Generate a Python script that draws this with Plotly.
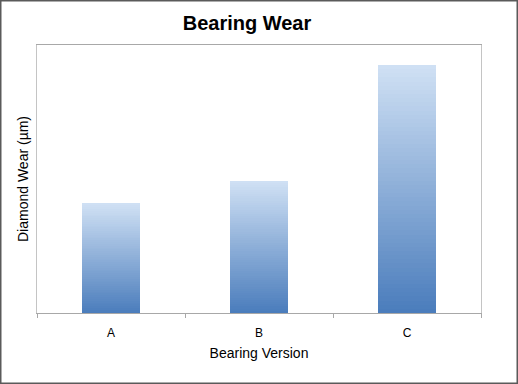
import plotly.graph_objects as go

categories = ["A", "B", "C"]
wear_values = [4.1, 4.93, 9.25]

title_text = "Bearing Wear"
x_title = "Bearing Version"
y_title = "Diamond Wear (µm)"

bottom_rgb = (75, 125, 188)
top_rgb = (207, 224, 244)
n_steps = 60

fig = go.Figure()
for k in range(n_steps):
    t = k / (n_steps - 1)
    c = tuple(round(b + (tp - b) * t) for b, tp in zip(bottom_rgb, top_rgb))
    fig.add_trace(go.Bar(
        x=categories,
        y=[v / n_steps for v in wear_values],
        marker=dict(color="rgb(%d,%d,%d)" % c, line=dict(width=0)),
        showlegend=False,
        hoverinfo="skip",
    ))

W, H = 518, 384
ml, mr, mt, mb = 37, 37, 45, 71
pw, ph = W - ml - mr, H - mt - mb

fig.update_layout(
    width=W, height=H,
    margin=dict(l=ml, r=mr, t=mt, b=mb),
    barmode="stack",
    bargap=0.61,
    paper_bgcolor="white",
    plot_bgcolor="white",
    font=dict(family="Liberation Sans, Arial, sans-serif", color="#000"),
    title=dict(text="<b>" + title_text + "</b>", x=247 / W, xref="container",
               xanchor="center", y=1 - 23 / H, yref="container", yanchor="middle",
               font=dict(size=20, color="#000")),
    xaxis=dict(
        title=dict(text=x_title, font=dict(size=14), standoff=8),
        tickfont=dict(size=12),
        ticklabelstandoff=9,
        tickson="boundaries",
        ticks="outside", ticklen=4, tickcolor="#a8a8a8", tickwidth=1,
        showline=True, linecolor="#a8a8a8", linewidth=1, mirror=True,
        showgrid=False,
    ),
    yaxis=dict(
        title=dict(text=y_title, font=dict(size=14), standoff=4),
        range=[0, 10],
        showticklabels=False, ticks="",
        showline=True, linecolor="#c4c4c4", linewidth=1, mirror=True,
        showgrid=False, zeroline=False,
    ),
    shapes=[dict(
        type="rect", xref="paper", yref="paper",
        x0=(0.75 - ml) / pw, x1=(W - 0.75 - ml) / pw,
        y0=-(mb - 0.75) / ph, y1=1 + (mt - 0.75) / ph,
        line=dict(color="#5a5a5a", width=1.5), fillcolor="rgba(0,0,0,0)",
        layer="above",
    )],
)

fig.write_html(
    "out.html",
    config={"displayModeBar": False},
    post_script="document.body.style.margin='0';document.body.style.overflow='hidden';",
)
